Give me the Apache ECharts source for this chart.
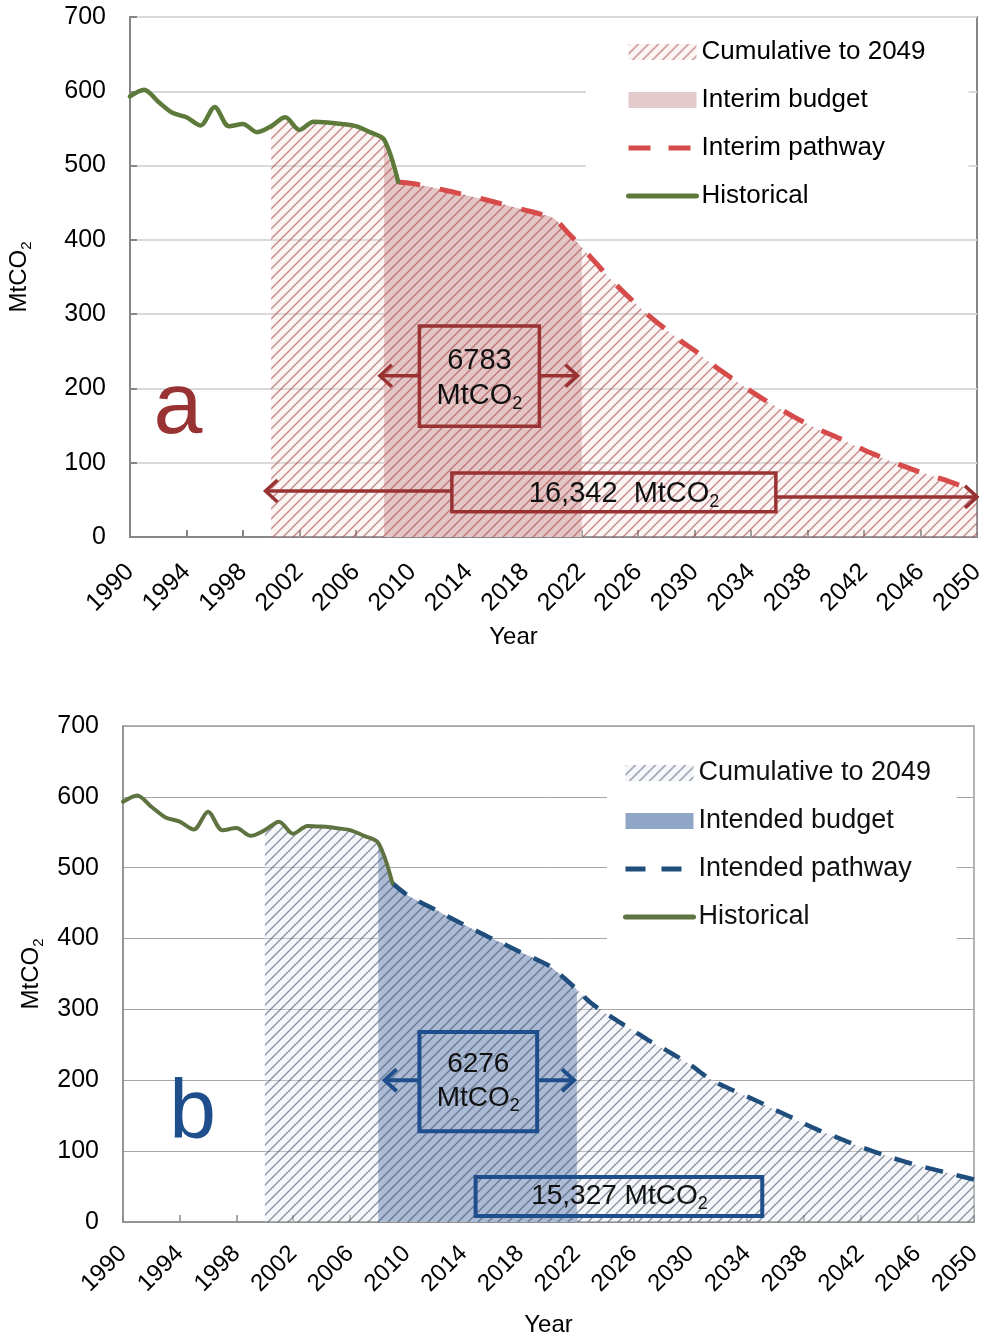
<!DOCTYPE html>
<html>
<head>
<meta charset="utf-8">
<script src="https://cdn.jsdelivr.net/npm/echarts@6/dist/echarts.min.js"></script>
<style>
  html, body { margin: 0; padding: 0; background: #fff; }
  #chart { width: 984px; height: 1337px; }
</style>
</head>
<body>
<div id="chart"></div>
<script>
// x categories: 1990 .. 2050
var years = [];
for (var yr = 1990; yr <= 2050; yr++) years.push(String(yr));

// historical emissions 1990-2009 (MtCO2)
var historical = [593, 602, 586, 571, 565, 554, 579, 553, 556, 545,
                  553, 565, 548, 559, 558, 556, 553, 545, 535, 478];

// pathways 2009-2050
var interimPathway = [478, 476, 472, 468, 464, 459, 455, 450, 445, 440,
                      435, 429, 410, 390, 369, 348, 329, 311, 294, 279,
                      264, 251, 236, 222, 209, 196, 184, 173, 162, 152,
                      143, 135, 126, 117, 109, 101, 94, 87, 81, 75, 68, 62];
var intendedPathway = [473, 462, 451, 441, 430, 420, 410, 400, 391, 381,
                       372, 362, 346, 328, 309, 295, 282, 270, 257, 246,
                       234, 222, 207, 195, 186, 177, 168, 158, 149, 139,
                       130, 122, 114, 106, 99, 92, 86, 80, 75, 70, 65, 60];

var cumulativeFrom = 2000;
var budgetFrom = 2008, budgetTo = 2022;

var budgetTotals = ['6783', '6276'];
var cumulativeTotals = ['16,342  MtCO', '15,327 MtCO'];

var FONT = '"Liberation Sans", Arial, sans-serif';

// historical up to 2009, pathway afterwards
function curve(path) {
  return years.map(function (y, i) {
    var n = +y;
    return n <= 2009 ? historical[i] : path[n - 2009];
  });
}
function clip(arr, from, to) {
  return arr.map(function (v, i) {
    var n = 1990 + i;
    return (n >= from && n <= to) ? v : null;
  });
}

function hatch(bg, line, step, width) {
  var c = document.createElement('canvas');
  c.width = step; c.height = step;
  var g = c.getContext('2d');
  if (bg) { g.fillStyle = bg; g.fillRect(0, 0, step, step); }
  g.strokeStyle = line;
  g.lineWidth = width;
  g.beginPath();
  g.moveTo(0, step); g.lineTo(step, 0);
  g.moveTo(-2, 2); g.lineTo(2, -2);
  g.moveTo(step - 2, step + 2); g.lineTo(step + 2, step - 2);
  g.stroke();
  return { image: c, repeat: 'repeat' };
}

var hatchA = hatch('rgba(240,215,215,0.25)', 'rgba(170,70,70,0.62)', 10, 1.4);
var hatchB = hatch('rgba(225,232,242,0.35)', 'rgba(55,65,90,0.55)', 10, 1.4);

var curveA = curve(interimPathway);
var curveB = curve(intendedPathway);

function areaSeries(name, idx, data, color) {
  return {
    name: name, type: 'line', xAxisIndex: idx, yAxisIndex: idx,
    data: data, smooth: 0.3, symbol: 'none', silent: true,
    lineStyle: { width: 0, opacity: 0 },
    itemStyle: { color: '#999' },
    areaStyle: { color: color, opacity: 1 },
    emphasis: { disabled: true }
  };
}
function lineSeries(name, idx, data, color, width, dash) {
  return {
    name: name, type: 'line', xAxisIndex: idx, yAxisIndex: idx,
    data: data, smooth: 0.3, symbol: 'none', silent: true,
    itemStyle: { color: color },
    lineStyle: { color: color, width: width, type: dash || 'solid', cap: dash ? 'butt' : 'round' },
    emphasis: { disabled: true }
  };
}

function xAxis(idx, fs, margin, gap, pad, axisColor) {
  return {
    type: 'category', gridIndex: idx, data: years, boundaryGap: false,
    axisLine: { show: true, lineStyle: { color: axisColor, width: idx ? 1.5 : 2 } },
    axisTick: { show: true, inside: true, interval: 3, length: 7, lineStyle: { color: axisColor, width: idx ? 1.5 : 2 } },
    axisLabel: { interval: 3, rotate: 45, margin: margin, fontSize: fs, color: '#000', fontFamily: FONT },
    splitLine: { show: false },
    name: 'Year', nameLocation: 'middle', nameGap: gap,
    nameTextStyle: { fontSize: 24, color: '#000', fontFamily: FONT, padding: pad }
  };
}
function yAxis(idx, gap, axisColor, gridColor, gridWidth) {
  return {
    type: 'value', gridIndex: idx, min: 0, max: 700, interval: 100,
    axisLine: { show: true, lineStyle: { color: axisColor, width: idx ? 1.5 : 2 } },
    axisTick: { show: idx === 0, inside: true, length: 7, lineStyle: { color: axisColor, width: 2 } },
    axisLabel: { margin: 24, fontSize: 25, color: '#000', fontFamily: FONT },
    splitLine: { show: true, lineStyle: { color: gridColor, width: gridWidth } },
    name: 'MtCO{sub|2}', nameLocation: 'middle', nameGap: gap, nameRotate: 90,
    nameTextStyle: {
      fontSize: 24, color: '#000', fontFamily: FONT, lineHeight: 30,
      rich: { sub: { fontSize: 15, lineHeight: 15, verticalAlign: 'bottom', color: '#000', fontFamily: FONT } }
    }
  };
}

var option = {
  animation: false,
  backgroundColor: '#fff',
  textStyle: { fontFamily: FONT },
  grid: [
    { left: 130, top: 17, width: 847, height: 520, show: true, borderColor: '#868686', borderWidth: 2,
      backgroundColor: 'transparent', containLabel: false, outerBoundsMode: 'none' },
    { left: 123, top: 726, width: 851, height: 496, show: true, borderColor: '#9a9a9a', borderWidth: 1.5,
      backgroundColor: 'transparent', containLabel: false, outerBoundsMode: 'none' }
  ],
  xAxis: [xAxis(0, 25, 31, 88, [0, 80, 0, 0], '#868686'), xAxis(1, 24, 28, 91, 0, '#8c8c8c')],
  yAxis: [yAxis(0, 96, '#868686', '#d9d9d9', 2), yAxis(1, 77, '#8c8c8c', '#a6a6a6', 1)],
  legend: [
    {
      orient: 'vertical', left: 586, top: 22, padding: [15, 43, 15, 40],
      backgroundColor: '#fff', itemWidth: 68, itemHeight: 16, itemGap: 18,
      selectedMode: false,
      textStyle: { fontSize: 26, color: '#000', fontFamily: FONT, lineHeight: 30 },
      data: [
        { name: 'Cumulative to 2049', icon: 'rect', itemStyle: { color: hatchA, borderWidth: 0 } },
        { name: 'Interim budget', icon: 'rect', itemStyle: { color: '#e4caca', borderWidth: 0 } },
        { name: 'Interim pathway', itemStyle: { color: 'rgba(0,0,0,0)', borderWidth: 0 },
          lineStyle: { width: 5, type: [22, 18] } },
        { name: 'Historical', itemStyle: { color: 'rgba(0,0,0,0)', borderWidth: 0 }, lineStyle: { width: 5 } }
      ]
    },
    {
      orient: 'vertical', left: 607, top: 743, padding: [15, 18, 17, 16],
      backgroundColor: '#fff', itemWidth: 68, itemHeight: 16, itemGap: 18,
      selectedMode: false,
      textStyle: { fontSize: 27, color: '#111', fontFamily: FONT, lineHeight: 30 },
      data: [
        { name: 'Cumulative to 2049 ', icon: 'rect', itemStyle: { color: hatchB, borderWidth: 0 } },
        { name: 'Intended budget', icon: 'rect', itemStyle: { color: '#8fa6c6', borderWidth: 0 } },
        { name: 'Intended pathway', itemStyle: { color: 'rgba(0,0,0,0)', borderWidth: 0 },
          lineStyle: { width: 5, type: [20, 16] } },
        { name: 'Historical ', itemStyle: { color: 'rgba(0,0,0,0)', borderWidth: 0 }, lineStyle: { width: 5 } }
      ]
    }
  ],
  series: [
    areaSeries('Interim budget', 0, clip(curveA, budgetFrom, budgetTo), '#e0c0c0'),
    areaSeries('Cumulative to 2049', 0, clip(curveA, cumulativeFrom, 2050), hatchA),
    lineSeries('Interim pathway', 0, clip(curveA, 2009, 2050), '#d64a4a', 5, [22, 20]),
    lineSeries('Historical', 0, clip(curveA, 1990, 2009), '#5e7a3a', 4.5),

    areaSeries('Intended budget', 1, clip(curveB, budgetFrom, budgetTo), '#8ea4c6'),
    areaSeries('Cumulative to 2049 ', 1, clip(curveB, cumulativeFrom, 2050), hatchB),
    lineSeries('Intended pathway', 1, clip(curveB, 2009, 2050), '#1f4e7d', 4.5, [18, 14]),
    lineSeries('Historical ', 1, clip(curveB, 1990, 2009), '#5e7340', 4)
  ]
};

var chart = echarts.init(document.getElementById('chart'));
chart.setOption(option);

// data-space -> pixel (fractional years allowed)
function toPx(gi, year, val) {
  var a = chart.convertToPixel({ gridIndex: gi }, [0, 0]);
  var b = chart.convertToPixel({ gridIndex: gi }, [60, 700]);
  return [a[0] + (b[0] - a[0]) * (year - 1990) / 60, a[1] + (b[1] - a[1]) * val / 700];
}

function box(gi, x0, x1, v0, v1, color, lw) {
  var p = toPx(gi, x0, v1), q = toPx(gi, x1, v0);
  return { type: 'rect', z: 100, silent: true,
    shape: { x: p[0], y: p[1], width: q[0] - p[0], height: q[1] - p[1] },
    style: { fill: 'none', stroke: color, lineWidth: lw } };
}
function arrow(gi, fromYear, toYear, val, color, lw) {
  var p = toPx(gi, fromYear, val), q = toPx(gi, toYear, val);
  var d = q[0] > p[0] ? -1 : 1;
  return [
    { type: 'polyline', z: 100, silent: true, shape: { points: [p, q] },
      style: { stroke: color, lineWidth: lw, fill: 'none' } },
    { type: 'polyline', z: 100, silent: true,
      shape: { points: [[q[0] + d * 12, q[1] - 11], q, [q[0] + d * 12, q[1] + 11]] },
      style: { stroke: color, lineWidth: lw, fill: 'none' } }
  ];
}
function label(gi, year, val, text, size, lh) {
  var p = toPx(gi, year, val);
  return { type: 'text', z: 101, silent: true, x: p[0], y: p[1],
    style: { text: text, fontSize: size, fill: '#111', fontFamily: FONT, align: 'center',
      verticalAlign: 'middle', lineHeight: lh,
      rich: { sub: { fontSize: 18, lineHeight: 18, verticalAlign: 'bottom', fill: '#111', fontFamily: FONT } } } };
}
function letter(gi, year, val, text, size, color) {
  var p = toPx(gi, year, val);
  return { type: 'text', z: 101, silent: true, x: p[0], y: p[1],
    style: { text: text, fontSize: size, fill: color, fontFamily: FONT, align: 'center', verticalAlign: 'middle' } };
}

var red = '#993333', navy = '#1f4e8c';
var graphics = [].concat(
  box(0, 2010.5, 2019.0, 149, 284, red, 3.5),
  arrow(0, 2010.5, 2007.7, 217, red, 3.5),
  arrow(0, 2019.0, 2021.7, 217, red, 3.5),
  label(0, 2014.75, 214, budgetTotals[0] + '\nMtCO{sub|2}', 29, 35),
  box(0, 2012.8, 2035.75, 34, 86, red, 3.5),
  arrow(0, 2012.8, 1999.6, 62, red, 3.5),
  arrow(0, 2035.75, 2050, 54, red, 3.5),
  label(0, 2025.0, 58, cumulativeTotals[0] + '{sub|2}', 29, 35),
  letter(0, 1993.4, 172, 'a', 88, red),

  box(1, 2010.9, 2019.2, 128, 268, navy, 4),
  arrow(1, 2010.9, 2008.45, 200, navy, 4),
  arrow(1, 2019.2, 2021.8, 200, navy, 4),
  label(1, 2015.05, 199, budgetTotals[1] + '\nMtCO{sub|2}', 28, 34),
  box(1, 2014.86, 2035.07, 8.5, 63.5, navy, 4),
  label(1, 2025.0, 37, cumulativeTotals[1] + '{sub|2}', 28, 34),
  letter(1, 1994.9, 151, 'b', 84, navy)
);
chart.setOption({ graphic: graphics });
</script>
</body>
</html>
